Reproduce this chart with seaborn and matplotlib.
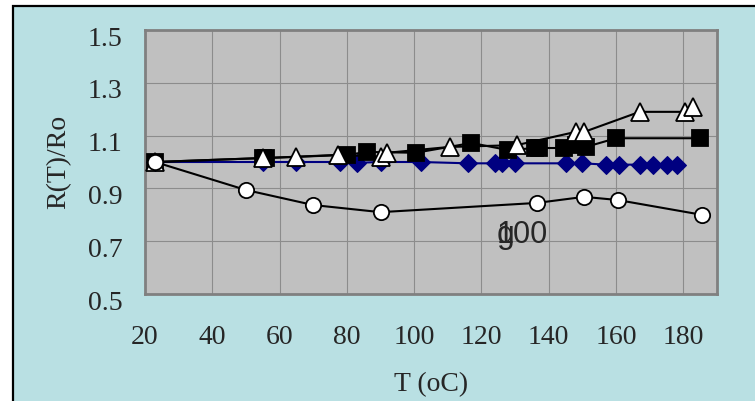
import matplotlib
matplotlib.use("Agg")
import matplotlib.pyplot as plt
from matplotlib.patches import Rectangle
from matplotlib.transforms import ScaledTranslation
import seaborn as sns

# readings (temperature in C, normalised resistance)
t_diamond = [23, 55, 65, 78, 83, 90, 102, 116, 124, 126, 130, 145, 150, 157, 161, 167, 171, 175, 178]
r_diamond = [1.0, 1.0, 1.0, 1.0, 0.997, 1.0, 1.0, 0.995, 0.995, 0.995, 0.995, 0.995, 0.995,
             0.99, 0.99, 0.99, 0.99, 0.99, 0.99]

t_square = [23, 55, 56, 80, 86, 100.5, 117, 128, 136, 137, 144.5, 148, 151, 160, 185]
r_square = [1.0, 1.015, 1.015, 1.027, 1.038, 1.035, 1.072, 1.045, 1.053, 1.053, 1.053,
            1.064, 1.057, 1.09, 1.09]

t_triangle = [23, 55, 65, 77.5, 90, 92, 110.5, 130.5, 148, 150.5, 167, 180.5, 183]
r_triangle = [1.0, 1.015, 1.02, 1.027, 1.02, 1.035, 1.057, 1.064, 1.114, 1.114, 1.19, 1.19, 1.208]

t_circle = [23, 50, 70, 90, 136.5, 150.5, 160.5, 185.5]
r_circle = [1.0, 0.894, 0.837, 0.81, 0.845, 0.868, 0.856, 0.80]

x_ticks = [20, 40, 60, 80, 100, 120, 140, 160, 180]
y_ticks = [0.5, 0.7, 0.9, 1.1, 1.3, 1.5]

sns.set_style("white")
plt.rcParams["font.family"] = ["Liberation Serif", "DejaVu Serif"]

fig = plt.figure(figsize=(7.55, 4.01), dpi=100)
fig.patch.set_facecolor("white")
# cyan chart area with black frame (right/bottom run off the picture)
frame = Rectangle((13 / 755, -0.05), 1.0, 1 - 6 / 401 + 0.05,
                  transform=fig.transFigure, facecolor="#b9e0e3",
                  edgecolor="black", linewidth=1.6, zorder=-10)
fig.add_artist(frame)

ax = fig.add_axes([145 / 755, 107 / 401, 572 / 755, 264 / 401])
ax.set_zorder(1)
ax.set_facecolor("#c0c0c0")

line_kw = dict(linewidth=1.5, markeredgecolor="black", markeredgewidth=1.3)
sns.lineplot(x=t_diamond, y=r_diamond, ax=ax, sort=False, color="#000080", marker="D",
             markersize=9.5, linewidth=1.5, markeredgecolor="#000080", zorder=3)
sns.lineplot(x=t_square, y=r_square, ax=ax, sort=False, color="black", marker="s",
             markersize=11, markerfacecolor="black", zorder=4, **line_kw)
sns.lineplot(x=t_triangle, y=r_triangle, ax=ax, sort=False, color="black", marker="^",
             markersize=13, markerfacecolor="white", zorder=5, **line_kw)
sns.lineplot(x=t_circle, y=r_circle, ax=ax, sort=False, color="black", marker="o",
             markersize=11, markerfacecolor="white", zorder=6, **line_kw)

# the stray label in the plot: a "g" printed over "100"
ax.text(124.5, 0.693, "100", fontsize=22, family=["Liberation Sans"], va="baseline", ha="left")
ax.text(124.4, 0.693, "g", fontsize=23, family=["Liberation Sans"], va="baseline", ha="left")

ax.set_xlim(20, 190)
ax.set_ylim(0.5, 1.5)
ax.set_xticks(x_ticks)
ax.set_yticks(y_ticks)
ax.set_xticklabels([str(v) for v in x_ticks])
ax.set_yticklabels([f"{v:.1f}" for v in y_ticks])
ax.grid(True, color="#8c8c8c", linewidth=0.8)
ax.set_axisbelow(True)
for s in ax.spines.values():
    s.set_color("#808080")
    s.set_linewidth(2)
ax.tick_params(axis="both", length=0, labelsize=20)
ax.tick_params(axis="x", pad=22)
ax.tick_params(axis="y", pad=16)
shift = ScaledTranslation(0, -0.06, fig.dpi_scale_trans)
for lab in ax.get_yticklabels():
    lab.set_transform(lab.get_transform() + shift)

ax.set_xlabel("T (oC)", fontsize=20, labelpad=16)
ax.set_ylabel("R(T)/Ro", fontsize=20, labelpad=12)

fig.savefig("out.png", dpi=100)
